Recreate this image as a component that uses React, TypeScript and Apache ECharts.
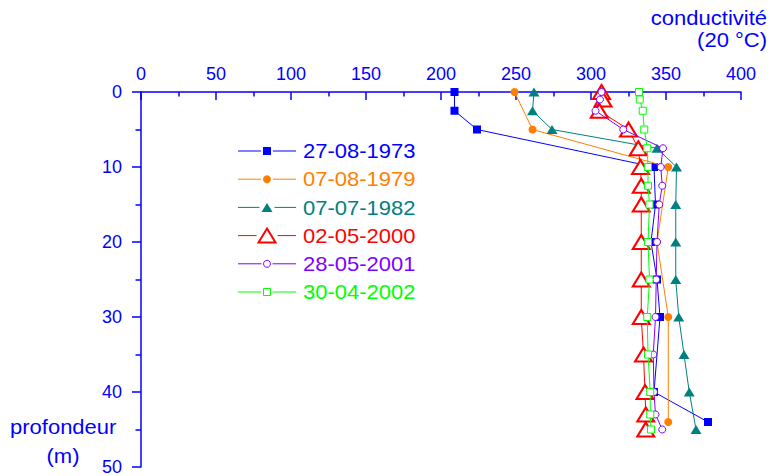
import React, { useEffect, useRef } from "react";
import * as echarts from "echarts";

// Depth profiles of conductivity (µS/cm at 20 °C) against depth (m)
const surveyNames = ["27-08-1973", "07-08-1979", "07-07-1982", "02-05-2000", "28-05-2001", "30-04-2002"];

const depth1973 = [0, 2.5, 5, 10, 15, 20, 25, 30, 40, 44];
const cond1973 = [209, 209, 224, 342, 343, 340, 344, 346, 342, 378];

const depth1979 = [0, 5, 10, 20, 30, 44];
const cond1979 = [249, 261, 351.5, 344, 351.5, 351.5];

const depth1982 = [0, 2.5, 5, 7.5, 10, 15, 20, 25, 30, 35, 40, 45];
const cond1982 = [262, 261, 274, 344, 357, 356.5, 356.5, 356.5, 358.5, 362, 365.5, 370];

const depthRecent = [0, 1, 2.5, 5, 7.5, 10, 12.5, 15, 20, 25, 30, 35, 40, 43, 45];
const cond2000 = [307, 308, 305.5, 325, 331.5, 333, 333.5, 333.5, 333.5, 333.5, 333.5, 335, 336, 336.5, 336.5];
const cond2001 = [307, 306, 303, 321.5, 348, 346.5, 347.5, 345.5, 344, 343.5, 343, 341.5, 342, 343, 347.5];
const cond2002 = [332, 332.5, 334.5, 335.5, 337.5, 338, 338, 339, 338, 339, 337.5, 338, 339.5, 339.5, 340];

const xTickValues = [0, 50, 100, 150, 200, 250, 300, 350, 400];
const yTickValues = [0, 10, 20, 30, 40, 50];

const profiles = [
  { depth: depth1973, cond: cond1973 },
  { depth: depth1979, cond: cond1979 },
  { depth: depth1982, cond: cond1982 },
  { depth: depthRecent, cond: cond2000 },
  { depth: depthRecent, cond: cond2001 },
  { depth: depthRecent, cond: cond2002 },
];

const FONT = '"Liberation Sans", Arial, Helvetica, sans-serif';
const AXIS_BLUE = "#0000ff";
const TEXT_STRETCH = 1.1;

type MarkStyle = {
  color: string;
  shape: "rect" | "circle" | "triangle";
  w: number;
  h: number;
  hollow: boolean;
  border: number;
};

const markStyles: MarkStyle[] = [
  { color: "#0000ff", shape: "rect", w: 8, h: 8, hollow: false, border: 0 },
  { color: "#ff8000", shape: "circle", w: 8, h: 8, hollow: false, border: 0 },
  { color: "#008080", shape: "triangle", w: 11, h: 9, hollow: false, border: 0 },
  { color: "#ff0000", shape: "triangle", w: 17, h: 14, hollow: true, border: 2 },
  { color: "#8000ff", shape: "circle", w: 7, h: 7, hollow: true, border: 1 },
  { color: "#00ff00", shape: "rect", w: 7, h: 7, hollow: true, border: 1 },
];

function buildLegend() {
  const elements: any[] = [];
  const x0 = 238;
  const x1 = 296;
  const cx = 267;
  const textX = 303;
  surveyNames.forEach((name, i) => {
    const y = 151 + i * 28.2;
    const m = markStyles[i];
    elements.push({
      type: "line",
      shape: { x1: x0, y1: y, x2: cx - m.w / 2 - 2, y2: y },
      style: { stroke: m.color, lineWidth: 1 },
    });
    elements.push({
      type: "line",
      shape: { x1: cx + m.w / 2 + 2, y1: y, x2: x1, y2: y },
      style: { stroke: m.color, lineWidth: 1 },
    });
    const markStyle = m.hollow
      ? { fill: "#fff", stroke: m.color, lineWidth: m.border }
      : { fill: m.color };
    if (m.shape === "rect") {
      elements.push({
        type: "rect",
        shape: { x: cx - m.w / 2, y: y - m.h / 2, width: m.w, height: m.h },
        style: markStyle,
      });
    } else if (m.shape === "circle") {
      elements.push({
        type: "circle",
        shape: { cx, cy: y, r: m.w / 2 },
        style: markStyle,
      });
    } else {
      elements.push({
        type: "polygon",
        shape: {
          points: [
            [cx, y - m.h / 2],
            [cx + m.w / 2, y + m.h / 2],
            [cx - m.w / 2, y + m.h / 2],
          ],
        },
        style: markStyle,
      });
    }
    elements.push({
      type: "text",
      x: textX,
      y,
      scaleX: TEXT_STRETCH,
      style: {
        text: name,
        fill: m.color,
        font: `20px ${FONT}`,
        textAlign: "left",
        textVerticalAlign: "middle",
      },
    });
  });
  return elements;
}

function axisTitle(text: string, x: number, y: number, align: string) {
  return {
    type: "text",
    x,
    y,
    scaleX: TEXT_STRETCH,
    style: {
      text,
      fill: AXIS_BLUE,
      font: `20px ${FONT}`,
      textAlign: align,
      textVerticalAlign: "middle",
    },
  };
}

export default function App() {
  const ref = useRef<HTMLDivElement>(null);

  useEffect(() => {
    if (!ref.current) return;
    const chart = echarts.init(ref.current, null, { renderer: "svg" });

    const series = profiles.map((p, i) => {
      const m = markStyles[i];
      return {
        name: surveyNames[i],
        type: "line",
        data: p.cond.map((c, k) => [c, p.depth[k]]),
        symbol: m.shape,
        symbolSize: m.shape === "triangle" ? [m.w, m.h] : m.w,
        showAllSymbol: true,
        silent: true,
        lineStyle: { color: m.color, width: 1 },
        itemStyle: m.hollow
          ? { color: "#fff", borderColor: m.color, borderWidth: m.border }
          : { color: m.color, borderWidth: 0 },
        emphasis: { disabled: true },
        z: 2 + i,
      };
    });

    const option: any = {
      animation: false,
      backgroundColor: "#fff",
      grid: { left: 141, right: 30, top: 92, bottom: 9, containLabel: false },
      xAxis: {
        type: "value",
        position: "top",
        min: xTickValues[0],
        max: xTickValues[xTickValues.length - 1],
        interval: xTickValues[1] - xTickValues[0],
        axisLine: { show: true, lineStyle: { color: AXIS_BLUE, width: 1.5 } },
        axisTick: { show: true, inside: true, length: 8, lineStyle: { color: AXIS_BLUE, width: 1.5 } },
        minorTick: { show: true, splitNumber: 2, length: 4.5, lineStyle: { color: AXIS_BLUE, width: 1.5 } },
        splitLine: { show: false },
        axisLabel: { color: AXIS_BLUE, fontSize: 18, fontFamily: FONT, margin: 9 },
      },
      yAxis: {
        type: "value",
        inverse: true,
        min: yTickValues[0],
        max: yTickValues[yTickValues.length - 1],
        interval: yTickValues[1] - yTickValues[0],
        axisLine: { show: true, lineStyle: { color: AXIS_BLUE, width: 1.5 } },
        axisTick: { show: true, inside: false, length: 9, lineStyle: { color: AXIS_BLUE, width: 1.5 } },
        minorTick: { show: true, splitNumber: 2, length: 5.5, lineStyle: { color: AXIS_BLUE, width: 1.5 } },
        splitLine: { show: false },
        axisLabel: { color: AXIS_BLUE, fontSize: 18, fontFamily: FONT, margin: 19 },
      },
      graphic: [
        axisTitle("conductivité", 767, 18, "right"),
        axisTitle("(20 °C)", 767, 40, "right"),
        axisTitle("profondeur", 10, 427, "left"),
        axisTitle("(m)", 63, 456, "center"),
        ...buildLegend(),
      ],
      series,
    };

    chart.setOption(option);
    return () => chart.dispose();
  }, []);

  return (
    <div
      ref={ref}
      style={{ position: "fixed", left: 0, top: 0, width: 771, height: 476, background: "#fff" }}
    />
  );
}
